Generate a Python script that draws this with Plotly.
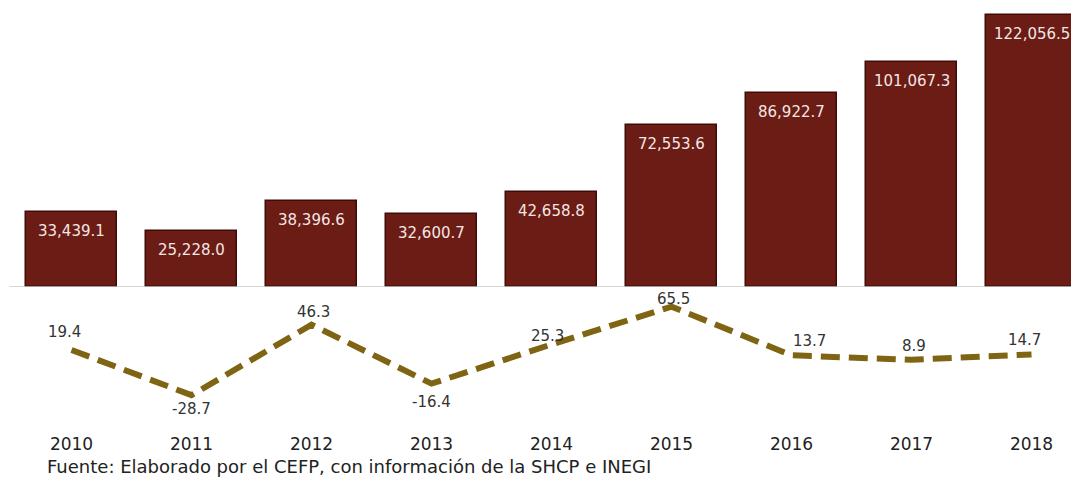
import plotly.graph_objects as go

# Años y series
years = ["2010", "2011", "2012", "2013", "2014", "2015", "2016", "2017", "2018"]
monto = [33439.1, 25228.0, 38396.6, 32600.7, 42658.8, 72553.6, 86922.7, 101067.3, 122056.5]
variacion = [19.4, -28.7, 46.3, -16.4, 25.3, 65.5, 13.7, 8.9, 14.7]

# Desplazamiento (px) de cada etiqueta de la variación respecto a su punto
var_xshift = [-7, 0, 2, 0, -4, 2, 18, 2, -7]
var_yshift = [18, -14, 13, -18, 8, 8, 14, 14, 14]

W, H = 1071, 479
BASE_PX = 287          # línea base de las barras (px desde arriba)
AXIS_PX = 432          # eje de los años (px desde arriba)

x = list(range(len(years)))

fig = go.Figure()

fig.add_trace(go.Bar(
    x=x, y=monto, xaxis="x", yaxis="y",
    width=0.76,
    marker=dict(color="#6B1C15", line=dict(color="#3E0B07", width=1.5)),
    hoverinfo="skip", showlegend=False,
))

fig.add_trace(go.Scatter(
    x=x, y=variacion, xaxis="x", yaxis="y2",
    mode="lines",
    line=dict(color="#7F6414", width=6, dash="19px,9px"),
    hoverinfo="skip", showlegend=False,
))

annotations = []
# Montos dentro de las barras
for xi, v in zip(x, monto):
    annotations.append(dict(
        x=xi, y=v, xref="x", yref="y", text=f"{v:,.1f}",
        showarrow=False, yanchor="middle", yshift=-19,
        font=dict(family="DejaVu Sans", size=15, color="#F3E6E4"),
    ))
# Variación porcentual
for xi, v, dx, dy in zip(x, variacion, var_xshift, var_yshift):
    annotations.append(dict(
        x=xi, y=v, xref="x", yref="y2", text=f"{v:.1f}",
        showarrow=False, yanchor="middle", xshift=dx, yshift=dy,
        font=dict(family="DejaVu Sans", size=15, color="#333333"),
    ))
# Fuente
annotations.append(dict(
    x=45 / W, y=1 - 466 / H, xref="paper", yref="paper", xanchor="left", yanchor="middle",
    text="Fuente: Elaborado por el CEFP, con información de la SHCP e INEGI",
    showarrow=False, font=dict(family="DejaVu Sans", size=18, color="#222222"),
))

spacing = 120.0
x0 = 71.5
xr = [-x0 / spacing, (W - x0) / spacing]

bar_dom = [1 - BASE_PX / H, 1]
bar_top = BASE_PX / 2.23 * 1000
line_dom = [1 - AXIS_PX / H, 1 - BASE_PX / H]
zero_px, px_per = 368.2, 0.94
line_range = [(zero_px - AXIS_PX) / px_per, (zero_px - BASE_PX) / px_per]

fig.update_layout(
    width=W, height=H,
    margin=dict(l=0, r=0, t=0, b=0),
    paper_bgcolor="white", plot_bgcolor="white",
    bargap=0,
    xaxis=dict(range=xr, anchor="y2", tickmode="array", tickvals=x, ticktext=years,
               showgrid=False, zeroline=False, showline=False, ticks="",
               tickfont=dict(family="DejaVu Sans", size=17, color="#222222")),
    yaxis=dict(domain=bar_dom, range=[0, bar_top], visible=False, showgrid=False),
    yaxis2=dict(domain=line_dom, range=line_range, visible=False, showgrid=False),
    annotations=annotations,
    shapes=[dict(type="line", xref="paper", yref="y", x0=0.009, x1=1, y0=0, y1=0,
                 line=dict(color="#C8C8C8", width=1.5))],
)

fig.write_html("out.html")
